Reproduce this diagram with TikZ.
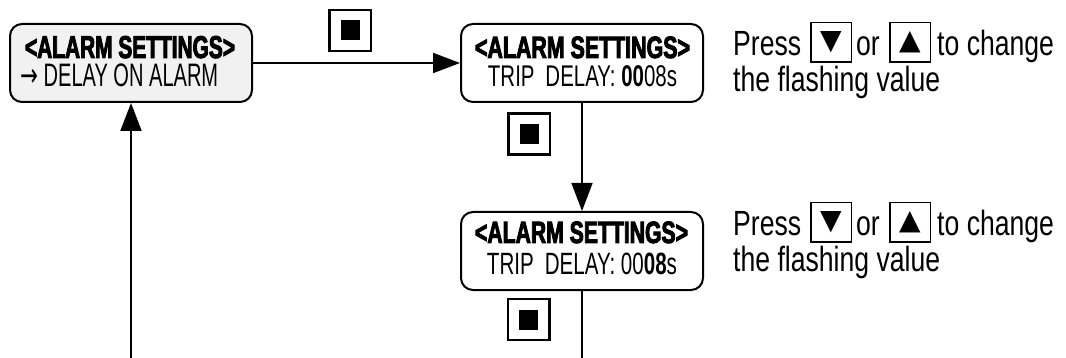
\documentclass[tikz,border=0pt]{standalone}
\usepackage{fontspec}
\usetikzlibrary{arrows.meta}
\setmainfont{Liberation Sans}
\newfontfamily\titlef{Liberation Sans Bold}[FakeStretch=0.75,FakeBold=3]
\newfontfamily\lightf{Liberation Sans}[FakeStretch=0.75]
\newfontfamily\textf{Liberation Sans}[FakeStretch=0.76]
\newfontfamily\symf{DejaVu Sans}
\definecolor{boxgray}{HTML}{F1F1F1}
\newcommand{\nodepth}[1]{\raisebox{0pt}[\height][0pt]{#1}}
\begin{document}
\begin{tikzpicture}[x=1pt,y=-1pt,
  dispbox/.style={draw, line width=2pt, rounded corners=12pt, minimum width=242pt, minimum height=78pt, inner sep=0pt},
  stopbtn/.style={draw, line width=2.5pt, minimum width=41.5pt, minimum height=41pt, inner sep=0pt,
    path picture={\fill ([xshift=-9.5pt,yshift=-10pt]path picture bounding box.center) rectangle ++(19pt,20pt);}},
  keybtn/.style={draw, line width=1.5pt, minimum width=40.5pt, minimum height=39.5pt, inner sep=0pt, font=\symf\fontsize{28}{28}\selectfont},
  lab/.style={anchor=base, inner sep=0pt},
  labw/.style={anchor=base west, inner sep=0pt},
  txt/.style={anchor=base west, inner sep=0pt, font=\textf\fontsize{35}{35}\selectfont},
  conn/.style={line width=2pt},
  thinconn/.style={line width=1.5pt},
  tip/.style={-{Triangle[length=27pt,width=20pt]}}
]
\useasboundingbox (0,0) rectangle (1066,358);

% display boxes
\node[dispbox, fill=boxgray] (b1) at (131,63) {};
\node[dispbox] (b2) at (582,63) {};
\node[dispbox] (b3) at (582,251) {};

% box texts (box heights are font ascent = 1.264 x cap height)
\node[lab] (b1t) at (130,58) {\nodepth{\resizebox{210pt}{22pt}{\titlef <ALARM SETTINGS>}}};
\node[labw] (b1l) at (20,87) {\nodepth{\resizebox{198pt}{22.7pt}{\lightf\smash{\symf\scalebox{0.8}[1]{→}} DELAY ON ALARM}}};
\node[lab] (b2t) at (582.5,58) {\nodepth{\resizebox{215pt}{21.5pt}{\titlef <ALARM SETTINGS>}}};
\node[lab] (b2l) at (582.5,87) {\nodepth{\resizebox{189pt}{20.9pt}{\lightf TRIP\hspace{0.4em}DELAY: {\bfseries 00}08s}}};
\node[lab] (b3t) at (581.5,243) {\nodepth{\resizebox{213pt}{21.5pt}{\titlef <ALARM SETTINGS>}}};
\node[lab] (b3l) at (582,275) {\nodepth{\resizebox{190pt}{21.5pt}{\lightf TRIP\hspace{0.4em}DELAY: 00{\bfseries 08}s}}};

% stop buttons
\node[stopbtn] (s1) at (350,30.5) {};
\node[stopbtn] (s2) at (529,134) {};
\node[stopbtn] (s3) at (528.5,319.5) {};

% instructions, top
\node[txt] (p1) at (733,56) {Press};
\node[keybtn] (dn1) at (831,42.5) {▼};
\node[txt] (or1) at (856,56) {or};
\node[keybtn] (up1) at (910,42.5) {▲};
\node[txt] (tc1) at (937,56) {to change};
\node[txt] (fv1) at (733,92) {the flashing value};

% instructions, bottom
\node[txt] (p2) at (733,236) {Press};
\node[keybtn] (dn2) at (831,222.5) {▼};
\node[txt] (or2) at (856,236) {or};
\node[keybtn] (up2) at (910,222.5) {▲};
\node[txt] (tc2) at (937,236) {to change};
\node[txt] (fv2) at (733,272) {the flashing value};

% connectors
\coordinate (e1) at (131,358);
\coordinate (e3) at (582,358);
\draw[conn, tip] (b1.east) -- (b2.west);
\draw[thinconn, -{Triangle[length=28pt,width=21pt]}] (b2.south) -- (b3.north);
\draw[thinconn] (b3.south) -- (e3);
\draw[conn, -{Triangle[length=28pt,width=21pt]}] (e1) -- (b1.south);
\end{tikzpicture}
\end{document}
